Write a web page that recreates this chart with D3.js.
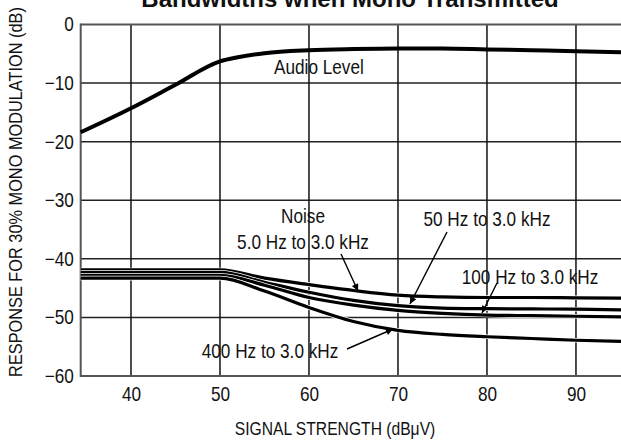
<!DOCTYPE html>
<html><head><meta charset="utf-8">
<script src="https://cdn.jsdelivr.net/npm/d3@7"></script>
<style>
html,body{margin:0;padding:0;background:#fff;}
svg{display:block;}
text{font-family:"Liberation Sans",Arial,sans-serif;fill:#111;}
</style></head>
<body>
<svg id="chart" width="621" height="444"></svg>
<script>
// ---- data ----
const chartTitle = "Bandwidths when Mono Transmitted";
const xTicks = [40, 50, 60, 70, 80, 90];
const yTicks = [0, -10, -20, -30, -40, -50, -60];
const xTitle = "SIGNAL STRENGTH (dBμV)";
const yTitle = "RESPONSE FOR 30% MONO MODULATION (dB)";

const audioX = [34.35, 40, 45, 50, 52, 55, 60, 65, 70, 75, 80, 85, 90, 95.06];
const audioLevel = [-18.4, -14.3, -10.3, -6.3, -5.6, -4.9, -4.4, -4.2, -4.1, -4.1, -4.25, -4.4, -4.55, -4.75];

const noiseX = [34.35, 40, 45, 50, 55, 60, 65, 70, 75, 80, 85, 90, 95.06];
const noise5Hz   = [-41.9, -41.9, -41.9, -41.9, -43.3, -44.4, -45.4, -46.2, -46.5, -46.6, -46.6, -46.65, -46.7];
const noise50Hz  = [-42.3, -42.3, -42.3, -42.3, -44.0, -45.7, -47.1, -48.0, -48.4, -48.5, -48.55, -48.6, -48.7];
const noise100Hz = [-42.8, -42.8, -42.8, -42.8, -44.5, -46.6, -47.9, -48.8, -49.3, -49.6, -49.7, -49.8, -49.9];
const noise400Hz = [-43.3, -43.3, -43.3, -43.3, -45.5, -48.3, -50.7, -52.2, -52.9, -53.3, -53.6, -53.9, -54.1];

// ---- layout ----
const svg = d3.select("#chart");
const L = 80.7, R = 621, T = 24.5, B = 376;
const SX = 0.86; // horizontal condensing to mimic the narrow typeface
const x = d3.scaleLinear().domain([34.35, 95.06]).range([L, R]);
const y = d3.scaleLinear().domain([-60, 0]).range([B, T]);

function narrowText(parent, str, px, py, size, anchor, rot) {
  return parent.append("text")
    .attr("transform", `translate(${px},${py})` + (rot ? ` rotate(${rot})` : "") + ` scale(${SX},1)`)
    .attr("text-anchor", anchor).style("font-size", size + "px").text(str);
}

// title (cut off at top)
svg.append("text").attr("x", 350).attr("y", 7).attr("text-anchor", "middle")
  .style("font-weight", "bold").style("font-size", "24px").text(chartTitle);

// grid
const g = svg.append("g");
g.selectAll(".hg").data(yTicks.filter(d => d !== 0 && d !== -60)).enter().append("line")
  .attr("x1", L).attr("x2", R).attr("y1", d => y(d)).attr("y2", d => y(d))
  .attr("stroke", "#222").attr("stroke-width", 1.5);
g.selectAll(".vg").data(xTicks).enter().append("line")
  .attr("x1", d => x(d)).attr("x2", d => x(d)).attr("y1", T).attr("y2", B)
  .attr("stroke", "#111").attr("stroke-width", 1.5);

// frame
svg.append("line").attr("x1", L).attr("x2", R).attr("y1", T).attr("y2", T).attr("stroke", "#555").attr("stroke-width", 2);
svg.append("line").attr("x1", L).attr("x2", R).attr("y1", B).attr("y2", B).attr("stroke", "#555").attr("stroke-width", 2);
svg.append("line").attr("x1", L).attr("x2", L).attr("y1", T - 1).attr("y2", B + 1).attr("stroke", "#555").attr("stroke-width", 2);

// axes labels via d3 axes
const xAxis = d3.axisBottom(x).tickValues(xTicks).tickSize(0).tickPadding(11).tickFormat(d3.format("d"));
const xa = svg.append("g").attr("transform", `translate(0,${B})`).call(xAxis);
xa.select(".domain").remove();
xa.selectAll("text").style("font-size", "20px").style("font-family", null).attr("fill", "#111")
  .attr("transform", `scale(${SX},1)`);

const yAxis = d3.axisLeft(y).tickValues(yTicks).tickSize(0).tickPadding(8)
  .tickFormat(d => d < 0 ? "\u2212" + Math.abs(d) : String(d));
const ya = svg.append("g").attr("transform", `translate(${L},0)`).call(yAxis);
ya.select(".domain").remove();
ya.selectAll("text").style("font-size", "20px").style("font-family", null).attr("fill", "#111")
  .attr("transform", `scale(${SX},1)`);

narrowText(svg, xTitle, 335, 435, 18.2, "middle");
narrowText(svg, yTitle, 22, 192, 19, "middle", -90);

// curves
const line = d3.line().x(d => x(d[0])).y(d => y(d[1])).curve(d3.curveMonotoneX);
const series = [
  {xs: noiseX, ys: noise5Hz},
  {xs: noiseX, ys: noise50Hz},
  {xs: noiseX, ys: noise100Hz},
  {xs: noiseX, ys: noise400Hz}
];
series.forEach(s => {
  const pts = s.xs.map((v, i) => [v, s.ys[i]]);
  svg.append("path").attr("d", line(pts)).attr("fill", "none").attr("stroke", "#fff").attr("stroke-width", 4.6);
  svg.append("path").attr("d", line(pts)).attr("fill", "none").attr("stroke", "#000").attr("stroke-width", 3.2);
});
const audioPts = audioX.map((v, i) => [v, audioLevel[i]]);
svg.append("path").attr("d", line(audioPts)).attr("fill", "none").attr("stroke", "#000").attr("stroke-width", 4);

// arrowheads
const defs = svg.append("defs");
defs.append("marker").attr("id", "ah").attr("viewBox", "0 0 10 10").attr("refX", 10).attr("refY", 5)
  .attr("markerWidth", 11).attr("markerHeight", 7).attr("markerUnits", "userSpaceOnUse").attr("orient", "auto")
  .append("path").attr("d", "M0,0 L10,5 L0,10 Z").attr("fill", "#000");

const arrows = [
  [341, 254, 358, 291],
  [447, 232, 410, 304],
  [497, 283, 482, 313],
  [347, 349, 393, 329]
];
svg.selectAll(".arr").data(arrows).enter().append("line")
  .attr("x1", d => d[0]).attr("y1", d => d[1]).attr("x2", d => d[2]).attr("y2", d => d[3])
  .attr("stroke", "#000").attr("stroke-width", 1.4).attr("marker-end", "url(#ah)");

// annotations
const ann = [
  ["Audio Level", 274, 74, "start"],
  ["Noise", 303, 223, "middle"],
  ["5.0 Hz to 3.0 kHz", 303, 249, "middle"],
  ["50 Hz to 3.0 kHz", 487, 226, "middle"],
  ["100 Hz to 3.0 kHz", 530, 284, "middle"],
  ["400 Hz to 3.0 kHz", 270, 358, "middle"]
];
ann.forEach(a => narrowText(svg, a[0], a[1], a[2], 20, a[3]));
</script>
</body></html>
